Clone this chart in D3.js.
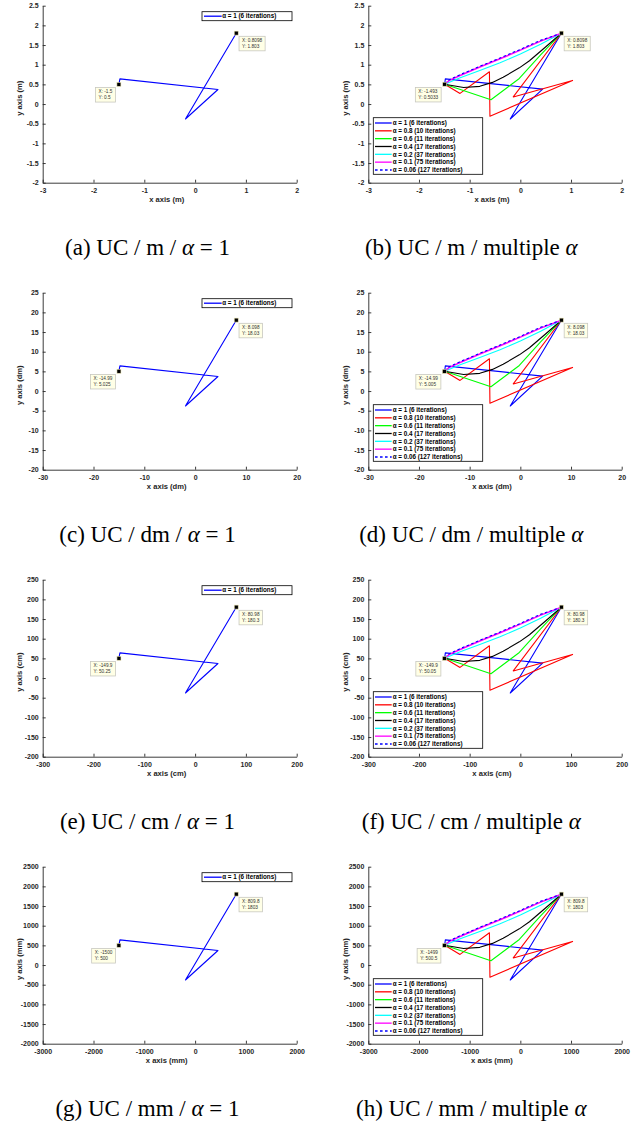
<!DOCTYPE html>
<html lang="en">
  <head>
    <meta charset="UTF-8" />
    <title>UC trajectories</title>
    <style>
      body { margin: 0; background: #fff; }
      .tick text { font-family: 'Liberation Sans', Arial, sans-serif; font-weight: bold; font-size: 7px; fill: #262626; }
      .axis path, .axis line { stroke: #262626; stroke-width: 0.9; }
      .lbl { font-family: 'Liberation Sans', Arial, sans-serif; font-weight: bold; font-size: 7.6px; fill: #262626; }
      .leg { font-family: 'Liberation Sans', Arial, sans-serif; font-weight: bold; font-size: 6.3px; fill: #000; }
      .tip { font-family: 'Liberation Sans', Arial, sans-serif; font-size: 4.7px; fill: #333; }
      .cap { font-family: 'Liberation Serif', 'Times New Roman', serif; font-size: 23px; fill: #000; }
    </style>
  </head>
  <body>
    <div id="main"></div>
    <script src="https://cdn.jsdelivr.net/npm/d3@7"></script>
    <script>
      const units = ['m', 'dm', 'cm', 'mm']
      const unitScale = [1, 10, 100, 1000]
      const xTicks = [-3, -2, -1, 0, 1, 2]
      const yTicks = [-2, -1.5, -1, -0.5, 0, 0.5, 1, 1.5, 2, 2.5]
      const alphas = ['1', '0.8', '0.6', '0.4', '0.2', '0.1', '0.06']
      const iterations = [6, 10, 11, 17, 37, 75, 127]
      const colors = ['#0000ff', '#ff0000', '#00ff00', '#000000', '#00ffff', '#ff00ff', '#0000ff']

      // trajectories in metres (same shape for every unit)
      const pathSingle = [[-1.5, 0.5], [-1.48, 0.64], [0.45, 0.37], [-0.19, -0.38], [0.81, 1.8]]
      const pathA1 = [[-1.493, 0.503], [-1.48, 0.64], [0.44, 0.38], [-0.2, -0.38], [0.81, 1.8]]
      const pathA08 = [[-1.493, 0.503], [-1.19, 0.27], [-0.61, 0.82], [-0.6, -0.31], [1.03, 0.6], [-0.14, 0.18], [0.81, 1.8]]
      const pathA06 = [[-1.493, 0.503], [-0.58, 0.11], [-0.02, 0.65], [0.4, 1.25], [0.81, 1.8]]
      const pathA04 = [[-1.493, 0.503], [-1.12, 0.42], [-0.8, 0.45], [-0.55, 0.55], [-0.34, 0.68], [-0.02, 0.92], [0.18, 1.1], [0.48, 1.43], [0.81, 1.8]]
      const pathA02 = [[-1.493, 0.503], [-1.2, 0.66], [-0.8, 0.85], [-0.4, 1.05], [0, 1.27], [0.4, 1.52], [0.81, 1.8]]
      const pathA01 = [[-1.493, 0.503], [-1.4, 0.6], [-1.2, 0.72], [-0.8, 0.94], [-0.4, 1.15], [0, 1.37], [0.4, 1.6], [0.81, 1.8]]
      const pathA006 = [[-1.493, 0.52], [-1.4, 0.62], [-1.2, 0.74], [-0.8, 0.96], [-0.4, 1.17], [0, 1.39], [0.4, 1.62], [0.81, 1.8]]
      const multiPaths = [pathA1, pathA08, pathA06, pathA04, pathA02, pathA01, pathA006]

      // data tips per panel a..h
      const tipStart = [[-1.5, 0.5], [-1.493, 0.5033], [-14.99, 5.025], [-14.99, 5.005], [-149.9, 50.25], [-149.9, 50.05], [-1500, 500], [-1499, 500.5]]
      const tipEnd = [[0.8098, 1.803], [0.8098, 1.803], [8.098, 18.03], [8.098, 18.03], [80.98, 180.3], [80.98, 180.3], [809.8, 1803], [809.8, 1803]]

      const [width, height] = [639, 1125]
      const colX = [[42.7, 296.7], [368.3, 621.7]]
      const rowTop = 5.7
      const rowH = 177
      const rowStep = 287
      const letters = 'abcdefgh'

      const svg = d3.select('#main').append('svg')
        .attr('width', width).attr('height', height)
        .attr('viewBox', `0 0 ${width} ${height}`)

      const fmt = d => String(+d.toFixed(6))

      units.forEach((unit, r) => {
        const s = unitScale[r]
        const y0 = rowTop + r * rowStep
        const y1 = y0 + rowH
        ;[0, 1].forEach(c => {
          const p = r * 2 + c
          const [x0, x1] = colX[c]
          const g = svg.append('g')
          const x = d3.scaleLinear().domain([-3 * s, 2 * s]).range([x0, x1])
          const y = d3.scaleLinear().domain([-2 * s, 2.5 * s]).range([y1, y0])

          g.append('g').attr('class', 'axis')
            .attr('transform', `translate(0,${y1})`)
            .call(d3.axisBottom(x).tickValues(xTicks.map(v => v * s)).tickFormat(fmt)
              .tickSizeInner(-3).tickSizeOuter(0).tickPadding(5))
          g.append('g').attr('class', 'axis')
            .attr('transform', `translate(${x0},0)`)
            .call(d3.axisLeft(y).tickValues(yTicks.map(v => v * s)).tickFormat(fmt)
              .tickSizeInner(-3).tickSizeOuter(0).tickPadding(4))

          g.append('text').attr('class', 'lbl')
            .attr('x', (x0 + x1) / 2 - 3).attr('y', y1 + 19.3)
            .attr('text-anchor', 'middle').text(`x axis (${unit})`)
          g.append('text').attr('class', 'lbl')
            .attr('transform', `translate(${x0 - 20.5},${(y0 + y1) / 2 + 4}) rotate(-90)`)
            .attr('text-anchor', 'middle').text(`y axis (${unit})`)

          const line = d3.line().x(d => x(d[0] * s)).y(d => y(d[1] * s))
          const series = c === 0 ? [pathSingle] : multiPaths
          series.forEach((pts, i) => {
            g.append('path').attr('d', line(pts))
              .attr('fill', 'none')
              .attr('stroke', colors[i])
              .attr('stroke-width', i === 5 ? 1.5 : 1.1)
              .attr('stroke-linejoin', 'round')
              .attr('stroke-dasharray', i === 6 ? '2.6,2.4' : null)
          })

          // data tips
          const tips = [[tipStart[p], -1], [tipEnd[p], 1]]
          tips.forEach(([t, side]) => {
            const mx = x(t[0]), my = y(t[1])
            g.append('rect').attr('x', mx - 2).attr('y', my - 2)
              .attr('width', 4).attr('height', 4)
              .attr('fill', '#000').attr('stroke', '#efe9b8').attr('stroke-width', 0.6)
            const tg = g.append('g')
            const t1 = tg.append('text').attr('class', 'tip').text(`X: ${t[0]}`)
            const t2 = tg.append('text').attr('class', 'tip').text(`Y: ${t[1]}`)
            const w = Math.max(t1.node().getComputedTextLength(), t2.node().getComputedTextLength()) + 6
            const bx = side < 0 ? mx - 3.5 - w : mx + 2.8
            const by = my + 3.2
            tg.insert('rect', 'text')
              .attr('x', bx).attr('y', by).attr('width', w).attr('height', 14.5)
              .attr('fill', '#ffffe6').attr('stroke', '#c8c8c0').attr('stroke-width', 0.8)
            t1.attr('x', bx + 3).attr('y', by + 5.6)
            t2.attr('x', bx + 3).attr('y', by + 11.4)
          })

          // legend
          if (c === 0) {
            const lx = x0 + 159.3, ly = y0 + 6
            g.append('rect').attr('x', lx).attr('y', ly).attr('width', 90).attr('height', 9)
              .attr('fill', '#fff').attr('stroke', '#000').attr('stroke-width', 0.8)
            g.append('line').attr('x1', lx + 2).attr('x2', lx + 19.7)
              .attr('y1', ly + 4.5).attr('y2', ly + 4.5)
              .attr('stroke', colors[0]).attr('stroke-width', 1.3)
            g.append('text').attr('class', 'leg').attr('x', lx + 20.2).attr('y', ly + 6.7)
              .text(`α = ${alphas[0]} (${iterations[0]} iterations)`)
          } else {
            const lx = x0 + 5, ly = y0 + 112
            g.append('rect').attr('x', lx).attr('y', ly).attr('width', 109.4).attr('height', 56.6)
              .attr('fill', '#fff').attr('stroke', '#000').attr('stroke-width', 0.8)
            alphas.forEach((a, i) => {
              const cy = ly + 5.3 + i * 7.83
              g.append('line').attr('x1', lx + 1.7).attr('x2', lx + 18.4)
                .attr('y1', cy).attr('y2', cy)
                .attr('stroke', colors[i]).attr('stroke-width', 1.3)
                .attr('stroke-dasharray', i === 6 ? '2.6,2.4' : null)
              g.append('text').attr('class', 'leg').attr('x', lx + 19.4).attr('y', cy + 2.2)
                .text(`α = ${a} (${iterations[i]} iterations)`)
            })
          }

          // caption
          const cap = svg.append('text').attr('class', 'cap')
            .attr('x', c === 0 ? 147.5 : 471.3).attr('y', 255 + r * rowStep)
            .attr('text-anchor', 'middle')
          if (c === 0) {
            cap.append('tspan').text(`(${letters[p]}) UC / ${unit} / `)
            cap.append('tspan').attr('font-style', 'italic').text('α')
            cap.append('tspan').text(' = 1')
          } else {
            cap.append('tspan').text(`(${letters[p]}) UC / ${unit} / multiple `)
            cap.append('tspan').attr('font-style', 'italic').text('α')
          }
        })
      })
    </script>
  </body>
</html>
